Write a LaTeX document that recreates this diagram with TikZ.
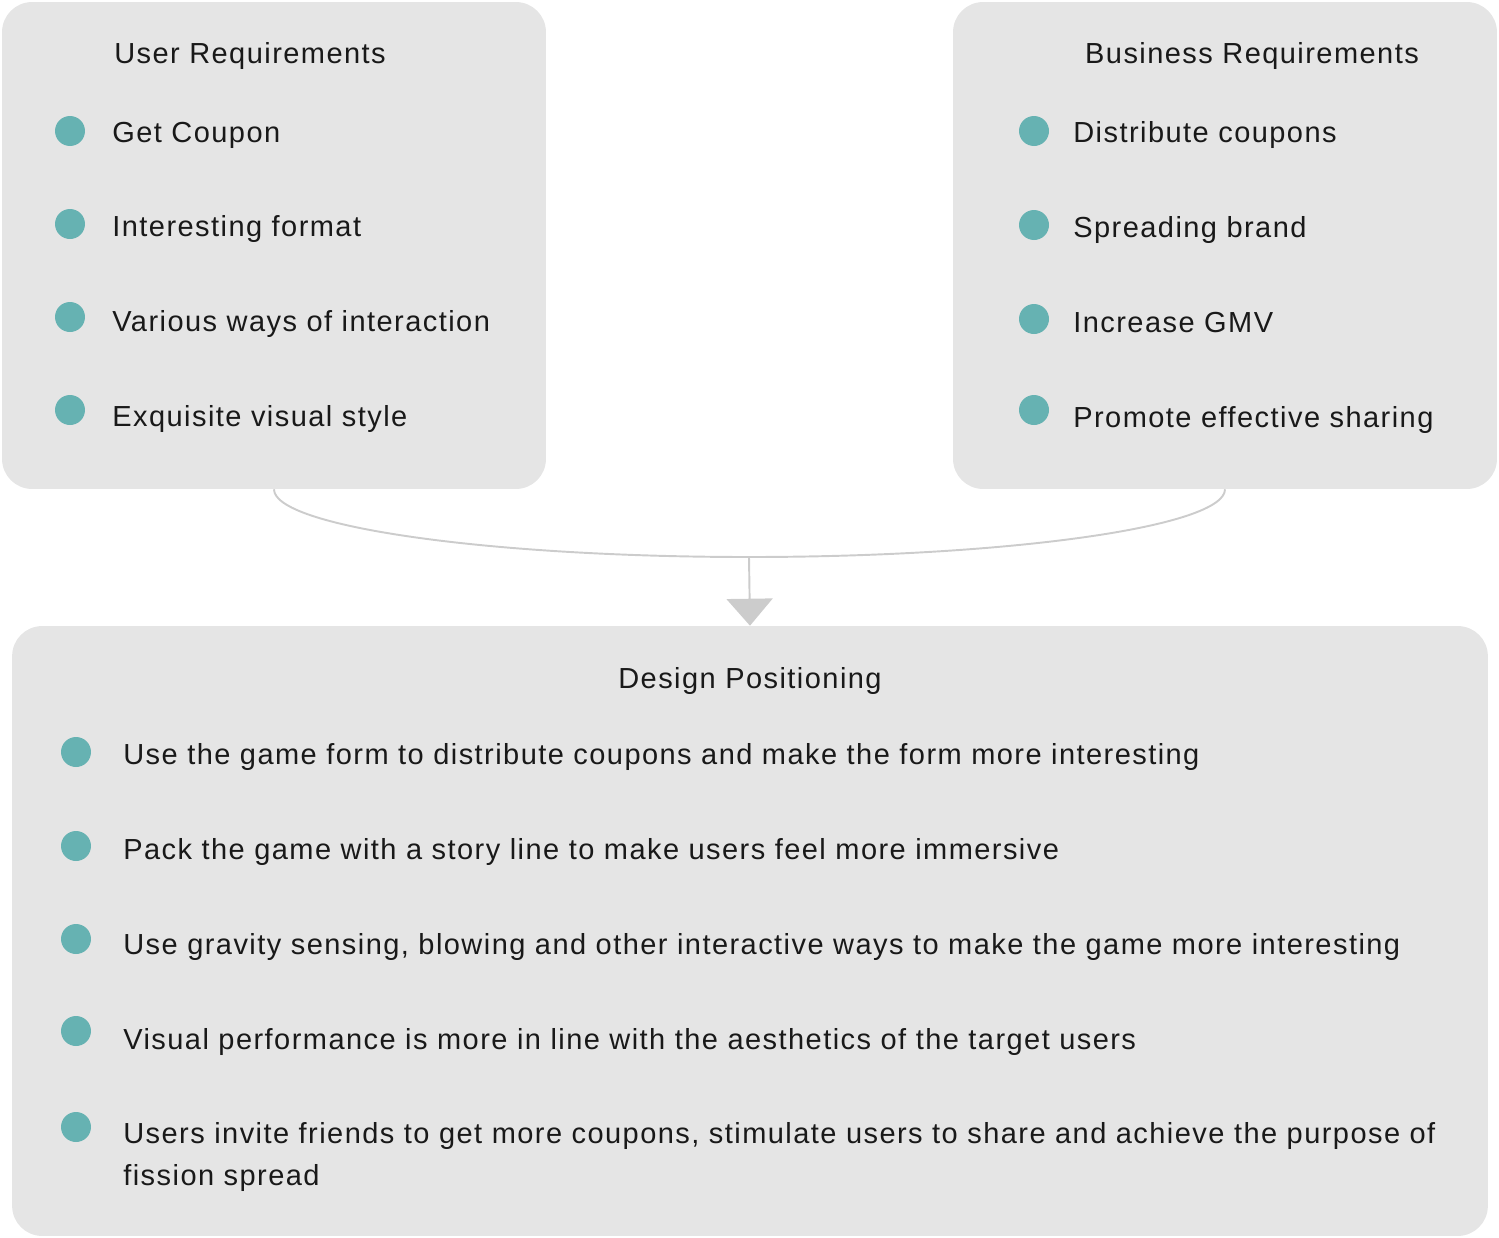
\documentclass[tikz,border=0pt]{standalone}
\usepackage{fontspec}
\setmainfont{Liberation Sans}[LetterSpace=5.0]
\usetikzlibrary{arrows.meta,positioning}
\definecolor{panelgray}{HTML}{E5E5E5}
\definecolor{dotteal}{HTML}{66B2B2}
\definecolor{linkgray}{HTML}{CCCCCC}

\begin{document}
\begin{tikzpicture}[x=0.02cm, y=-0.02cm, every node/.style={font=\fontsize{16.5}{23.9}\selectfont, text=black!90}, panel/.style={fill=panelgray, rounded corners=0.6cm, inner sep=0}, dot/.style={circle, fill=dotteal, minimum size=0.6cm, inner sep=0}, item/.style={anchor=base west, inner sep=0, align=left}, title/.style={anchor=base, inner sep=0}, link/.style={draw=linkgray, line width=1.1pt}]
\useasboundingbox (0,0) rectangle (1499,1238);
% panels
\node[panel, minimum width=10.88cm, minimum height=9.74cm] (user) at (274,245.5) {};
\node[panel, minimum width=10.88cm, minimum height=9.74cm] (biz) at (1225,245.5) {};
\node[panel, minimum width=29.52cm, minimum height=12.2cm] (design) at (750,931) {};
% user requirements
\node[title] (usertitle) at (250,63) {User Requirements};
\node[dot] (ud1) at (70,131) {};
\node[dot] (ud2) at (70,224) {};
\node[dot] (ud3) at (70,317) {};
\node[dot] (ud4) at (70,410) {};
\node[item] (u1) at (112,142) {Get Coupon};
\node[item] (u2) at (112,236) {Interesting format};
\node[item] (u3) at (112,331) {Various ways of interaction};
\node[item] (u4) at (112,426) {Exquisite visual style};
% business requirements
\node[title] (biztitle) at (1252,63) {Business Requirements};
\node[dot] (bd1) at (1034,131) {};
\node[dot] (bd2) at (1034,225) {};
\node[dot] (bd3) at (1034,319) {};
\node[dot] (bd4) at (1034,410) {};
\node[item] (b1) at (1073,142) {Distribute coupons};
\node[item] (b2) at (1073,237) {Spreading brand};
\node[item] (b3) at (1073,332) {Increase GMV};
\node[item] (b4) at (1073,427) {Promote effective sharing};
% design positioning
\node[title] (designtitle) at (750,688) {Design Positioning};
\node[dot] (dd1) at (76,752) {};
\node[dot] (dd2) at (76,846) {};
\node[dot] (dd3) at (76,939) {};
\node[dot] (dd4) at (76,1031) {};
\node[dot] (dd5) at (76,1127) {};
\node[item] (d1) at (123,764) {Use the game form to distribute coupons and make the form more interesting};
\node[item] (d2) at (123,859) {Pack the game with a story line to make users feel more immersive};
\node[item] (d3) at (123,954) {Use gravity sensing, blowing and other interactive ways to make the game more interesting};
\node[item] (d4) at (123,1049) {Visual performance is more in line with the aesthetics of the target users};
\node[item] (d5) at (123,1185) {Users invite friends to get more coupons, stimulate users to share and achieve the purpose of\\fission spread};
% merge curve and arrow
\coordinate (merge) at (749,557);
\draw[link] (user.south) .. controls +(0,37) and +(-263,0) .. (merge) .. controls +(263,0) and +(0,37) .. (biz.south);
\draw[link, -{Triangle[width=0.92cm, length=0.54cm, fill=linkgray]}] (merge) -- (design.north);
\end{tikzpicture}
\end{document}
